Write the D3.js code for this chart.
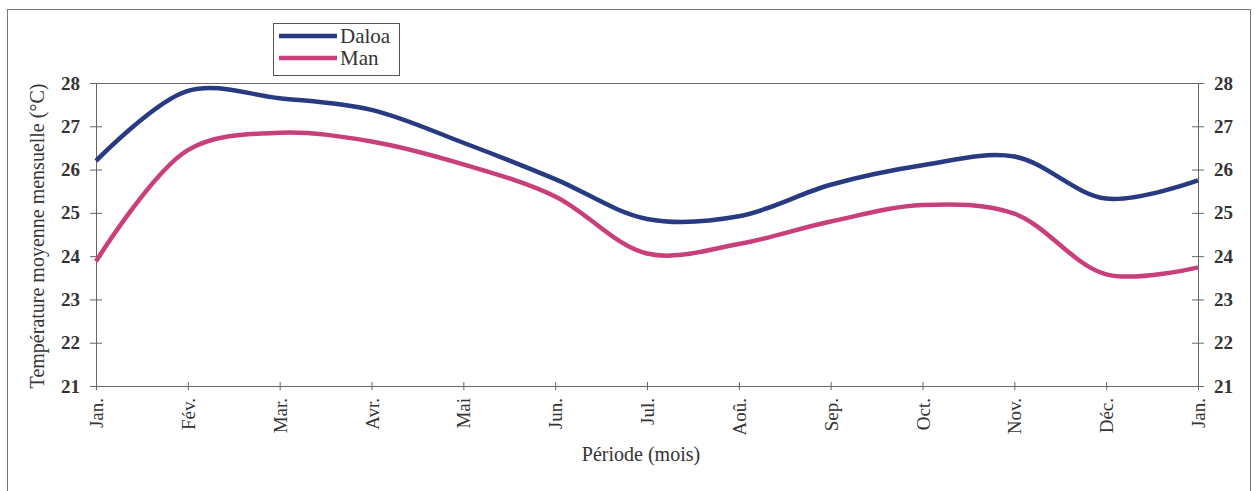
<!DOCTYPE html>
<html>
<head>
<meta charset="utf-8">
<script src="https://cdn.jsdelivr.net/npm/d3@7"></script>
<style>
  body { margin: 0; background: #fff; }
  svg text { font-family: "Liberation Serif", "Times New Roman", serif !important; fill: #333; }
</style>
</head>
<body>
<div id="chart"></div>
<script>
// Data
var months = ["Jan.", "Fév.", "Mar.", "Avr.", "Mai", "Jun.", "Jul.", "Aoû.", "Sep.", "Oct.", "Nov.", "Déc.", "Jan."];
var daloa = [26.2, 27.82, 27.65, 27.38, 26.62, 25.78, 24.86, 24.92, 25.65, 26.1, 26.3, 25.33, 25.75];
var man = [23.88, 26.45, 26.85, 26.65, 26.12, 25.38, 24.06, 24.28, 24.8, 25.18, 24.98, 23.58, 23.74];
var yTicks = [21, 22, 23, 24, 25, 26, 27, 28];
var seriesNames = ["Daloa", "Man"];
var seriesColors = ["#283a82", "#c83f7b"];

var svgWidth = 1255;
var svgHeight = 491;

var chartMargin = { top: 83, right: 57, bottom: 105, left: 96 };
var chartWidth = svgWidth - chartMargin.left - chartMargin.right;
var chartHeight = svgHeight - chartMargin.top - chartMargin.bottom;

var svg = d3.select("#chart")
  .append("svg")
  .attr("width", svgWidth)
  .attr("height", svgHeight);

// outer frame
svg.append("rect")
  .attr("x", 7.5).attr("y", 9.5)
  .attr("width", 1243).attr("height", 500)
  .attr("fill", "none")
  .attr("stroke", "#777")
  .attr("stroke-width", 1);

var chartGroup = svg.append("g")
  .attr("transform", `translate(${chartMargin.left}, ${chartMargin.top})`);

var xScale = d3.scalePoint()
  .domain(d3.range(months.length))
  .range([0, chartWidth]);

var yScale = d3.scaleLinear()
  .domain([21, 28])
  .range([chartHeight, 0]);

// plot area top line
chartGroup.append("line")
  .attr("x1", 0).attr("x2", chartWidth)
  .attr("y1", 0.5).attr("y2", 0.5)
  .attr("stroke", "#666");

// axes
var bottomAxis = d3.axisBottom(xScale).tickSize(4).tickFormat(i => months[i]);
var leftAxis = d3.axisLeft(yScale).tickValues(yTicks).tickSize(6).tickFormat(d3.format("d"));
var rightAxis = d3.axisRight(yScale).tickValues(yTicks).tickSize(6).tickFormat(d3.format("d"));

var gx = chartGroup.append("g")
  .attr("transform", `translate(0, ${chartHeight})`)
  .call(bottomAxis);
gx.selectAll(".tick line").attr("y1", -4).attr("y2", 4);
gx.selectAll(".tick text")
  .attr("transform", "rotate(-90)")
  .attr("x", -12).attr("y", 0).attr("dy", "0.35em")
  .style("text-anchor", "end")
  .style("font-size", "19px");

var gl = chartGroup.append("g").call(leftAxis);
gl.selectAll(".tick line").attr("x1", 6).attr("x2", -6);
gl.selectAll(".tick text").attr("x", -16)
  .style("font-size", "19px").style("font-weight", "bold");

var gr = chartGroup.append("g")
  .attr("transform", `translate(${chartWidth}, 0)`)
  .call(rightAxis);
gr.selectAll(".tick line").attr("x1", -6).attr("x2", 6);
gr.selectAll(".tick text").attr("x", 16)
  .style("font-size", "19px").style("font-weight", "bold");

chartGroup.selectAll(".domain").attr("stroke", "#666");
chartGroup.selectAll(".tick line").attr("stroke", "#666");
chartGroup.selectAll(".tick text").attr("fill", "#333");

// lines
var line = d3.line()
  .x((d, i) => xScale(i))
  .y(d => yScale(d))
  .curve(d3.curveCatmullRom.alpha(0.5));

[daloa, man].forEach(function(values, k) {
  chartGroup.append("path")
    .datum(values)
    .attr("fill", "none")
    .attr("stroke", seriesColors[k])
    .attr("stroke-width", 4.5)
    .attr("stroke-linejoin", "round")
    .attr("d", line);
});

// axis titles
svg.append("text")
  .attr("x", 641)
  .attr("y", 461)
  .style("text-anchor", "middle")
  .style("font-size", "20px")
  .text("Période (mois)");

svg.append("text")
  .attr("transform", "rotate(-90)")
  .attr("x", -236)
  .attr("y", 44)
  .style("text-anchor", "middle")
  .style("font-size", "20px")
  .text("Température moyenne mensuelle (°C)");

// legend
var legend = svg.append("g");
legend.append("rect")
  .attr("x", 273.5).attr("y", 23.5)
  .attr("width", 126).attr("height", 52)
  .attr("fill", "#fff")
  .attr("stroke", "#555");

seriesNames.forEach(function(name, k) {
  var yy = 36 + k * 22;
  legend.append("line")
    .attr("x1", 279).attr("x2", 337)
    .attr("y1", yy).attr("y2", yy)
    .attr("stroke", seriesColors[k])
    .attr("stroke-width", 4.5);
  legend.append("text")
    .attr("x", 340).attr("y", yy + 7)
    .style("font-size", "21px")
    .text(name);
});
</script>
</body>
</html>
